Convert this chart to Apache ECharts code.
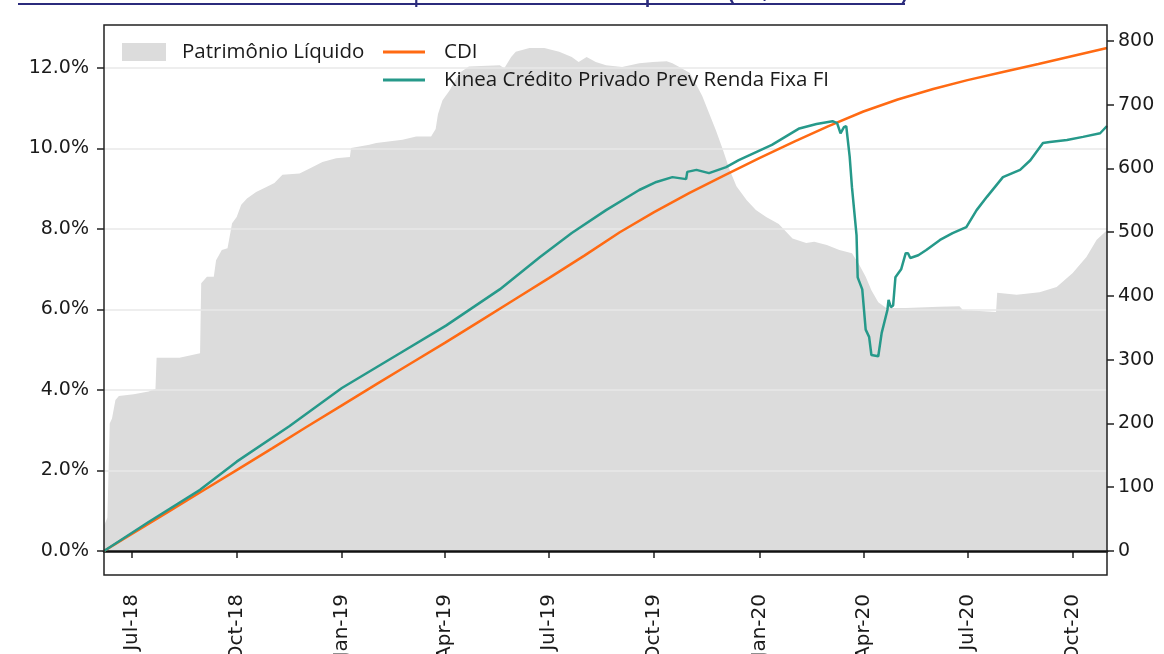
<!DOCTYPE html>
<html>
<head>
<meta charset="utf-8">
<script src="https://cdn.jsdelivr.net/npm/echarts@6/dist/echarts.min.js"></script>
<style>
  html, body { margin: 0; padding: 0; background: #fff; }
  #chart { width: 1164px; height: 654px; }
</style>
</head>
<body>
<div id="chart"></div>
<script>
// títulos e séries
const chartTitle = 'Rentabilidade Acumulada | Patrimônio Líquido (R$ milhões)';
const plName = 'Patrimônio Líquido';
const cdiName = 'CDI';
const fundName = 'Kinea Crédito Privado Prev Renda Fixa FI';

// Patrimônio Líquido (R$ milhões, eixo direito)
const plDates = ['2018-06-07','2018-06-10','2018-06-11','2018-06-12','2018-06-14','2018-06-17','2018-06-20','2018-07-03','2018-07-16','2018-07-22','2018-07-23','2018-08-12','2018-08-30','2018-08-31','2018-09-05','2018-09-11','2018-09-13','2018-09-18','2018-09-23','2018-09-27','2018-10-01','2018-10-05','2018-10-10','2018-10-18','2018-10-27','2018-11-03','2018-11-10','2018-11-25','2018-12-06','2018-12-15','2018-12-27','2019-01-08','2019-01-09','2019-01-25','2019-01-31','2019-02-23','2019-03-07','2019-03-20','2019-03-24','2019-03-26','2019-03-30','2019-04-05','2019-04-14','2019-04-22','2019-05-19','2019-05-23','2019-05-29','2019-06-02','2019-06-14','2019-06-27','2019-07-10','2019-07-21','2019-07-27','2019-08-03','2019-08-11','2019-08-20','2019-09-03','2019-09-18','2019-09-30','2019-10-12','2019-10-17','2019-10-23','2019-11-01','2019-11-07','2019-11-12','2019-11-18','2019-11-24','2019-11-30','2019-12-06','2019-12-12','2019-12-21','2019-12-29','2020-01-07','2020-01-18','2020-01-30','2020-02-11','2020-02-18','2020-02-29','2020-03-11','2020-03-22','2020-03-28','2020-04-03','2020-04-08','2020-04-14','2020-04-21','2020-05-08','2020-06-06','2020-06-24','2020-06-27','2020-07-26','2020-07-27','2020-08-13','2020-09-02','2020-09-17','2020-10-01','2020-10-13','2020-10-22','2020-10-31'];
const plValues = [40,52,55,200,208,237,243,246,250,254,303,303,310,420,430,430,456,472,475,514,524,543,553,563,571,577,590,592,602,610,616,618,632,637,640,645,650,650,662,685,707,722,750,760,762,757,775,783,789,789,783,775,767,775,767,762,759,765,767,768,765,759,750,731,714,687,660,630,598,572,550,535,524,513,490,483,485,480,472,467,450,430,409,390,381,381,383,384,378,375,405,402,406,414,436,461,488,503];

// CDI acumulado (%)
const cdiDates = ['2018-06-07','2018-07-01','2018-08-01','2018-09-01','2018-10-01','2018-11-01','2018-12-01','2019-01-01','2019-02-01','2019-03-01','2019-04-01','2019-05-01','2019-06-01','2019-07-01','2019-08-01','2019-09-01','2019-10-01','2019-11-01','2019-12-01','2020-01-01','2020-02-01','2020-03-01','2020-04-01','2020-05-01','2020-06-01','2020-07-01','2020-08-01','2020-09-01','2020-10-01','2020-10-31'];
const cdiValues = [0,0.42,0.95,1.49,2.01,2.55,3.08,3.62,4.16,4.64,5.17,5.70,6.25,6.78,7.34,7.92,8.42,8.90,9.33,9.76,10.18,10.55,10.92,11.22,11.48,11.70,11.90,12.10,12.30,12.50];

// fundo acumulado (%)
const fundDates = ['2018-06-07','2018-07-16','2018-08-30','2018-10-01','2018-11-16','2019-01-01','2019-02-20','2019-04-02','2019-05-19','2019-06-23','2019-07-21','2019-08-20','2019-09-18','2019-10-03','2019-10-17','2019-10-29','2019-10-30','2019-11-07','2019-11-18','2019-12-03','2019-12-14','2020-01-12','2020-02-05','2020-02-20','2020-03-05','2020-03-09','2020-03-12','2020-03-15','2020-03-17','2020-03-20','2020-03-22','2020-03-26','2020-03-27','2020-03-28','2020-03-31','2020-04-03','2020-04-06','2020-04-08','2020-04-14','2020-04-17','2020-04-22','2020-04-23','2020-04-25','2020-04-27','2020-04-29','2020-05-04','2020-05-08','2020-05-10','2020-05-12','2020-05-19','2020-05-26','2020-06-07','2020-06-18','2020-06-30','2020-07-09','2020-07-18','2020-08-01','2020-08-16','2020-08-25','2020-09-05','2020-09-11','2020-09-26','2020-10-10','2020-10-25','2020-10-31'];
const fundValues = [0,0.72,1.52,2.22,3.10,4.05,4.90,5.60,6.50,7.30,7.90,8.47,8.97,9.17,9.29,9.24,9.42,9.47,9.39,9.54,9.71,10.09,10.50,10.61,10.68,10.63,10.38,10.53,10.56,9.80,9.04,7.85,6.80,6.80,6.50,5.50,5.32,4.87,4.84,5.42,5.99,6.24,6.06,6.10,6.80,7.00,7.40,7.40,7.28,7.35,7.48,7.73,7.90,8.05,8.47,8.80,9.29,9.47,9.71,10.14,10.16,10.21,10.29,10.38,10.56];

// eixos
const xMin = '2018-06-07';
const xMax = '2020-10-31';
const xTicks = ['2018-07-01','2018-10-01','2019-01-01','2019-04-01','2019-07-01','2019-10-01','2020-01-01','2020-04-01','2020-07-01','2020-10-01'];
const leftTicks = [0, 2, 4, 6, 8, 10, 12];
const rightTicks = [0, 100, 200, 300, 400, 500, 600, 700, 800];
const months = ['Jan','Feb','Mar','Apr','May','Jun','Jul','Aug','Sep','Oct','Nov','Dec'];

const t = s => { const p = s.split('-'); return new Date(+p[0], +p[1] - 1, +p[2]).getTime(); };
const zip = (ds, vs) => ds.map((d, i) => [t(d), vs[i]]);

const tickFont = { fontFamily: 'DejaVu Sans', fontSize: 19, color: '#1a1a1a' };
const legendFont = { fontFamily: 'Open Sans', fontSize: 20.5, color: '#1a1a1a', lineHeight: 22 };

let myChart = echarts.init(document.getElementById('chart'));
let option = {
    animation: false,
    grid: { left: 104, right: 57, top: 25, bottom: 103, outerBoundsMode: 'none' },
    legend: [
        {
            data: [plName], left: 122, top: 41, padding: 0, icon: 'rect',
            itemWidth: 44, itemHeight: 18,
            textStyle: Object.assign({ padding: [0, 0, 0, 11] }, legendFont)
        },
        {
            data: [cdiName, fundName], orient: 'vertical', left: 383, top: 41, padding: 0, icon: 'rect',
            itemWidth: 42, itemHeight: 3, itemGap: 6,
            textStyle: Object.assign({ padding: [0, 0, 0, 14] }, legendFont)
        }
    ],
    xAxis: [
        {
            // datas como timestamps num eixo de valores
            type: 'value', min: t(xMin), max: t(xMax), position: 'bottom', offset: 24,
            axisLine: { show: false },
            axisTick: { show: true, length: 7, lineStyle: { color: '#222', width: 1.5 }, customValues: xTicks.map(t) },
            axisLabel: Object.assign({
                customValues: xTicks.map(t), rotate: 90, margin: 19,
                formatter: v => { const d = new Date(v); return months[d.getMonth()] + '-' + String(d.getFullYear()).slice(2); }
            }, tickFont, { fontSize: 20 }),
            splitLine: { show: false }
        },
        {
            // linha do zero
            type: 'value', min: t(xMin), max: t(xMax), position: 'bottom', offset: 0, z: 4,
            axisLine: { show: true, lineStyle: { color: '#111', width: 2.5 } },
            axisTick: { show: false }, axisLabel: { show: false }, splitLine: { show: false }
        }
    ],
    yAxis: [
        {
            type: 'value', position: 'left', min: 0, max: 13.07, interval: 2, z: 3,
            axisLine: { show: false },
            axisTick: { show: true, length: 7, lineStyle: { color: '#222', width: 1.5 }, customValues: leftTicks },
            axisLabel: Object.assign({ customValues: leftTicks, margin: 15, formatter: v => v.toFixed(1) + '%' }, tickFont),
            splitLine: { show: true, lineStyle: { color: '#e8e8e8', width: 1.5 } }
        },
        {
            type: 'value', position: 'right', min: 0, max: 825, interval: 100,
            axisLine: { show: false },
            axisTick: { show: true, length: 7, lineStyle: { color: '#222', width: 1.5 }, customValues: rightTicks },
            axisLabel: Object.assign({ customValues: rightTicks, margin: 11 }, tickFont),
            splitLine: { show: false }
        }
    ],
    series: [
        {
            name: plName, type: 'line', xAxisIndex: 0, yAxisIndex: 1, z: 1,
            data: zip(plDates, plValues), showSymbol: false, color: '#dcdcdc',
            lineStyle: { width: 0 }, areaStyle: { color: '#dcdcdc', opacity: 1 }
        },
        {
            name: cdiName, type: 'line', xAxisIndex: 0, yAxisIndex: 0, z: 5,
            data: zip(cdiDates, cdiValues), showSymbol: false, color: '#ff6a13',
            lineStyle: { width: 2.5 }
        },
        {
            name: fundName, type: 'line', xAxisIndex: 0, yAxisIndex: 0, z: 6,
            data: zip(fundDates, fundValues), showSymbol: false, color: '#26998a',
            lineStyle: { width: 2.5 }
        }
    ],
    graphic: [
        { type: 'rect', silent: true, z: 10, shape: { x: 104, y: 25, width: 1003, height: 550 }, style: { fill: 'none', stroke: '#222', lineWidth: 1.5 } },
        { type: 'text', silent: true, x: 18, y: 6, style: { text: chartTitle, fontFamily: 'Open Sans', fontSize: 32, fill: '#2b2b7c', verticalAlign: 'bottom' } },
        { type: 'line', silent: true, shape: { x1: 18, y1: 4, x2: 905, y2: 4 }, style: { stroke: '#2b2b7c', lineWidth: 2 } }
    ]
};
myChart.setOption(option);
</script>
</body>
</html>
